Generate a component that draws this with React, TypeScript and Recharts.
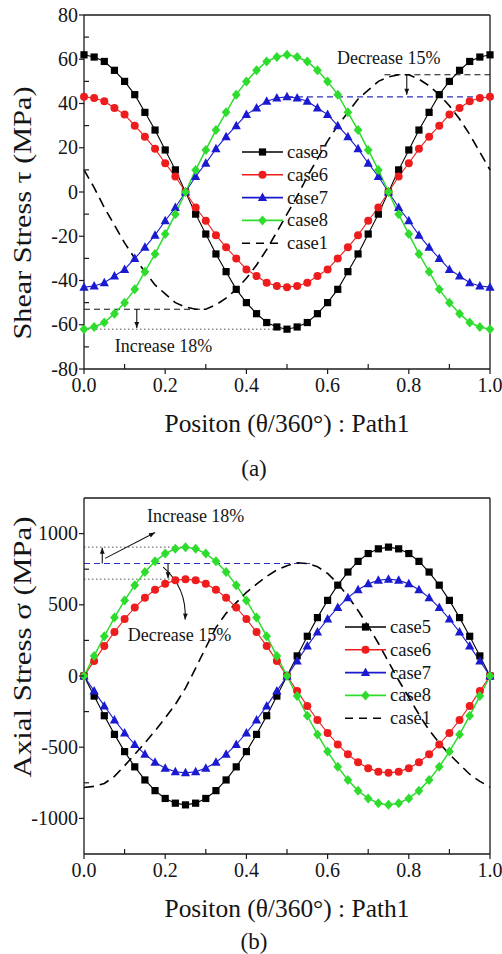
import React from 'react';
import { LineChart, Line, XAxis, YAxis, ReferenceLine, ReferenceDot, Legend, Label } from 'recharts';

const SERIF = "'Liberation Serif', 'Times New Roman', serif";

// positions (theta/360)
const positions = [
  0, 0.025, 0.05, 0.075, 0.1, 0.125, 0.15, 0.175, 0.2, 0.225, 0.25, 0.275, 0.3, 0.325,
  0.35, 0.375, 0.4, 0.425, 0.45, 0.475, 0.5, 0.525, 0.55, 0.575, 0.6, 0.625, 0.65,
  0.675, 0.7, 0.725, 0.75, 0.775, 0.8, 0.825, 0.85, 0.875, 0.9, 0.925, 0.95, 0.975, 1,
];

// (a) shear stress, MPa
const shearCase5 = [62, 61, 59, 55, 50, 44, 36, 28, 19, 10, 0, -10, -19, -28, -36, -44, -50, -55, -59, -61, -62, -61, -59, -55, -50, -44, -36, -28, -19, -10, 0, 10, 19, 28, 36, 44, 50, 55, 59, 61, 62];
const shearCase6 = [43, 42.5, 41, 38, 35, 30, 25, 19.5, 13, 7, 0, -7, -13, -19.5, -25, -30, -35, -38, -41, -42.5, -43, -42.5, -41, -38, -35, -30, -25, -19.5, -13, -7, 0, 7, 13, 19.5, 25, 30, 35, 38, 41, 42.5, 43];
const shearCase7 = [-43, -42.5, -41, -38, -35, -30, -25, -19.5, -13, -7, 0, 7, 13, 19.5, 25, 30, 35, 38, 41, 42.5, 43, 42.5, 41, 38, 35, 30, 25, 19.5, 13, 7, 0, -7, -13, -19.5, -25, -30, -35, -38, -41, -42.5, -43];
const shearCase8 = [-62, -61, -59, -55, -50, -44, -36, -28, -19, -10, 0, 10, 19, 28, 36, 44, 50, 55, 59, 61, 62, 61, 59, 55, 50, 44, 36, 28, 19, 10, 0, -10, -19, -28, -36, -44, -50, -55, -59, -61, -62];
const shearCase1 = [10, 2, -7, -15, -23, -30, -36, -42, -46, -50, -52, -53, -53, -51, -48, -44, -39, -33, -26, -18, -10, -2, 7, 15, 23, 30, 36, 42, 46, 50, 52, 53, 53, 51, 48, 44, 39, 33, 26, 18, 10];

// (b) axial stress, MPa
const axialCase5 = [0, -141, -279, -410, -531, -638, -730, -805, -860, -893, -905, -893, -860, -805, -730, -638, -531, -410, -279, -141, 0, 141, 279, 410, 531, 638, 730, 805, 860, 893, 905, 893, 860, 805, 730, 638, 531, 410, 279, 141, 0];
const axialCase6 = [0, 106, 210, 309, 400, 481, 550, 606, 647, 672, 680, 672, 647, 606, 550, 481, 400, 309, 210, 106, 0, -106, -210, -309, -400, -481, -550, -606, -647, -672, -680, -672, -647, -606, -550, -481, -400, -309, -210, -106, 0];
const axialCase7 = [0, -106, -210, -309, -400, -481, -550, -606, -647, -672, -680, -672, -647, -606, -550, -481, -400, -309, -210, -106, 0, 106, 210, 309, 400, 481, 550, 606, 647, 672, 680, 672, 647, 606, 550, 481, 400, 309, 210, 106, 0];
const axialCase8 = [0, 141, 279, 410, 531, 638, 730, 805, 860, 893, 905, 893, 860, 805, 730, 638, 531, 410, 279, 141, 0, -141, -279, -410, -531, -638, -730, -805, -860, -893, -905, -893, -860, -805, -730, -638, -531, -410, -279, -141, 0];
const axialCase1 = [-783, -775, -755, -705, -630, -550, -470, -385, -295, -200, -85, 55, 200, 340, 440, 515, 587, 645, 700, 745, 775, 795, 790, 768, 720, 650, 560, 460, 350, 230, 100, -30, -150, -270, -380, -470, -550, -620, -690, -740, -780];

// axis ticks
const xMajorTicks = [0, 0.2, 0.4, 0.6, 0.8, 1.0];
const xMinorTicks = [0.1, 0.3, 0.5, 0.7, 0.9];
const shearMajorTicks = [-80, -60, -40, -20, 0, 20, 40, 60, 80];
const shearMinorTicks = [-70, -50, -30, -10, 10, 30, 50, 70];
const axialMajorTicks = [-1000, -500, 0, 500, 1000];
const axialMinorTicks = [-750, -250, 250, 750];

const seriesNames = ['case5', 'case6', 'case7', 'case8', 'case1'];
const seriesKeys = ['c5', 'c6', 'c7', 'c8', 'c1'];
const seriesColors = ['#000000', '#ee1c1c', '#1a1ad0', '#2edc2e', '#000000'];
const seriesMarkers = ['square', 'circle', 'triangle', 'diamond', 'none'];

const shearRows = positions.map((p, i) => ({
  pos: p, c5: shearCase5[i], c6: shearCase6[i], c7: shearCase7[i], c8: shearCase8[i], c1: shearCase1[i],
}));
const axialRows = positions.map((p, i) => ({
  pos: p, c5: axialCase5[i], c6: axialCase6[i], c7: axialCase7[i], c8: axialCase8[i], c1: axialCase1[i],
}));

const AXIS_COLOR = '#1a1a1a';
const TEXT_COLOR = '#151515';

function markerEl(shape: string, cx: number, cy: number, color: string, key?: any) {
  switch (shape) {
    case 'square':
      return <rect key={key} x={cx - 3.6} y={cy - 3.6} width={7.2} height={7.2} fill={color} />;
    case 'circle':
      return <circle key={key} cx={cx} cy={cy} r={4} fill={color} />;
    case 'triangle':
      return <polygon key={key} points={`${cx},${cy - 5} ${cx - 4.6},${cy + 3.5} ${cx + 4.6},${cy + 3.5}`} fill={color} />;
    case 'diamond':
      return <polygon key={key} points={`${cx},${cy - 5} ${cx + 4.4},${cy} ${cx},${cy + 5} ${cx - 4.4},${cy}`} fill={color} />;
    default:
      return <g key={key} />;
  }
}

const makeDot = (shape: string, color: string) => (props: any) => {
  const { cx, cy, index } = props;
  if (cx == null || cy == null) return <g key={index} />;
  return markerEl(shape, cx, cy, color, index);
};

const has = (arr: number[], v: number) => arr.some((m) => Math.abs(m - v) < 1e-9);

const makeXTick = (majors: number[]) => (props: any) => {
  const { x, y, payload } = props;
  const v = payload.value;
  const major = has(majors, v);
  return (
    <g>
      {major ? (
        <line x1={x} x2={x} y1={y} y2={y + 5} stroke={AXIS_COLOR} strokeWidth={1.2} />
      ) : (
        <line x1={x} x2={x} y1={y} y2={y - 5} stroke={AXIS_COLOR} strokeWidth={1.2} />
      )}
      {major && (
        <text x={x} y={y + 22.5} textAnchor="middle" fontFamily={SERIF} fontSize={20} fill={TEXT_COLOR}>
          {v.toFixed(1)}
        </text>
      )}
    </g>
  );
};

const makeYTick = (majors: number[]) => (props: any) => {
  const { x, y, payload } = props;
  const v = payload.value;
  const major = has(majors, v);
  return (
    <g>
      {major ? (
        <line x1={x} x2={x - 5} y1={y} y2={y} stroke={AXIS_COLOR} strokeWidth={1.2} />
      ) : (
        <line x1={x} x2={x + 5} y1={y} y2={y} stroke={AXIS_COLOR} strokeWidth={1.2} />
      )}
      {major && (
        <text x={x - 6} y={y + 6.5} textAnchor="end" fontFamily={SERIF} fontSize={20} fill={TEXT_COLOR}>
          {String(v)}
        </text>
      )}
    </g>
  );
};

const arrowShape = (curve: number) => (props: any) => {
  const { x1, y1, x2, y2 } = props;
  if ([x1, y1, x2, y2].some((v) => v == null || Number.isNaN(v))) return <g />;
  const mx = (x1 + x2) / 2;
  const my = (y1 + y2) / 2;
  const dx = x2 - x1;
  const dy = y2 - y1;
  const len = Math.hypot(dx, dy) || 1;
  const cx = mx - (dy / len) * curve;
  const cy = my + (dx / len) * curve;
  const hx = x2 - cx;
  const hy = y2 - cy;
  const hl = Math.hypot(hx, hy) || 1;
  const ux = hx / hl;
  const uy = hy / hl;
  const s = 6;
  const w = 2.4;
  const p2 = `${x2 - ux * s - uy * w},${y2 - uy * s + ux * w}`;
  const p3 = `${x2 - ux * s + uy * w},${y2 - uy * s - ux * w}`;
  return (
    <g>
      <path d={`M${x1},${y1} Q${cx},${cy} ${x2},${y2}`} fill="none" stroke="#111" strokeWidth={1.1} />
      <polygon points={`${x2},${y2} ${p2} ${p3}`} fill="#111" />
    </g>
  );
};

const textShape = (txt: string) => (props: any) => {
  const { cx, cy } = props;
  return (
    <text x={cx} y={cy} fontFamily={SERIF} fontSize={18} fill={TEXT_COLOR}>
      {txt}
    </text>
  );
};

const LegendBox = () => (
  <svg width={110} height={120}>
    {seriesNames.map((name, i) => {
      const cy = 12 + i * 22.8;
      const color = seriesColors[i];
      const dashed = seriesMarkers[i] === 'none';
      return (
        <g key={name}>
          <line x1={2} x2={43} y1={cy} y2={cy} stroke={color} strokeWidth={1.6} strokeDasharray={dashed ? '8 6' : undefined} />
          {markerEl(seriesMarkers[i], 22.5, cy, color)}
          <text x={47} y={cy + 6} fontFamily={SERIF} fontSize={18.5} fill={TEXT_COLOR}>
            {name}
          </text>
        </g>
      );
    })}
  </svg>
);

const titleContent = (txt: string, x: number, y: number, len: number, size: number, rotate: boolean) => () => (
  <text
    x={x}
    y={y}
    textAnchor="middle"
    dominantBaseline="central"
    fontFamily={SERIF}
    fontSize={size}
    fill={TEXT_COLOR}
    textLength={len}
    lengthAdjust="spacingAndGlyphs"
    transform={rotate ? `rotate(-90 ${x} ${y})` : undefined}
  >
    {txt}
  </text>
);

function renderSeries() {
  return seriesKeys.map((k, i) => (
    <Line
      key={k}
      dataKey={k}
      type="linear"
      stroke={seriesColors[i]}
      strokeWidth={seriesMarkers[i] === 'none' ? 1.6 : i === 3 ? 1.5 : 1.1}
      strokeDasharray={seriesMarkers[i] === 'none' ? '10 6' : undefined}
      dot={seriesMarkers[i] === 'none' ? false : makeDot(seriesMarkers[i], seriesColors[i])}
      activeDot={false}
      isAnimationActive={false}
      legendType="none"
    />
  ));
}

function ShearChart() {
  return (
    <LineChart width={502} height={480} data={shearRows} margin={{ top: 15, right: 12, left: 0, bottom: 0 }}>
      <XAxis
        dataKey="pos"
        type="number"
        domain={[0, 1]}
        ticks={[...xMajorTicks, ...xMinorTicks].sort((a, b) => a - b)}
        interval={0}
        height={111}
        tickSize={0}
        tickMargin={0}
        tickLine={false}
        tick={makeXTick(xMajorTicks)}
        axisLine={{ stroke: AXIS_COLOR, strokeWidth: 1.3 }}
      >
        <Label content={titleContent('Positon (θ/360°) : Path1', 287, 423, 245, 25, false)} />
      </XAxis>
      <YAxis
        type="number"
        domain={[-80, 80]}
        ticks={[...shearMajorTicks, ...shearMinorTicks].sort((a, b) => a - b)}
        interval={0}
        width={84}
        tickSize={0}
        tickMargin={0}
        tickLine={false}
        tick={makeYTick(shearMajorTicks)}
        axisLine={{ stroke: AXIS_COLOR, strokeWidth: 1.3 }}
      >
        <Label content={titleContent('Shear Stress τ (MPa)', 22, 213, 253, 26, true)} />
      </YAxis>
      <ReferenceLine y={80} stroke={AXIS_COLOR} strokeWidth={1.3} />
      <ReferenceLine x={1} stroke={AXIS_COLOR} strokeWidth={1.3} />
      <ReferenceLine segment={[{ x: 0.74, y: 53 }, { x: 1, y: 53 }]} stroke="#111" strokeWidth={1.2} strokeDasharray="6 4" />
      <ReferenceLine segment={[{ x: 0.5, y: 43 }, { x: 1, y: 43 }]} stroke="#3030c0" strokeWidth={1.2} strokeDasharray="6 4" />
      <ReferenceLine segment={[{ x: 0, y: -53 }, { x: 0.29, y: -53 }]} stroke="#111" strokeWidth={1.2} strokeDasharray="6 4" />
      <ReferenceLine segment={[{ x: 0, y: -62 }, { x: 0.5, y: -62 }]} stroke="#555" strokeWidth={1} strokeDasharray="1.5 2.5" />
      <ReferenceLine segment={[{ x: 0.795, y: 53 }, { x: 0.795, y: 44 }]} shape={arrowShape(0)} />
      <ReferenceLine segment={[{ x: 0.13, y: -53 }, { x: 0.13, y: -61.5 }]} shape={arrowShape(0)} />
      {renderSeries()}
      <ReferenceDot x={0.623} y={57.8} r={0} shape={textShape('Decrease 15%')} />
      <ReferenceDot x={0.076} y={-72.4} r={0} shape={textShape('Increase 18%')} />
      <Legend
        layout="horizontal"
        verticalAlign="middle"
        align="center"
        content={() => <LegendBox />}
        wrapperStyle={{ position: 'absolute', left: 240, top: 140, width: 110, height: 120 }}
      />
    </LineChart>
  );
}

function AxialChart() {
  return (
    <LineChart width={502} height={474} data={axialRows} margin={{ top: 18, right: 12, left: 0, bottom: 0 }}>
      <XAxis
        dataKey="pos"
        type="number"
        domain={[0, 1]}
        ticks={[...xMajorTicks, ...xMinorTicks].sort((a, b) => a - b)}
        interval={0}
        height={100}
        tickSize={0}
        tickMargin={0}
        tickLine={false}
        tick={makeXTick(xMajorTicks)}
        axisLine={{ stroke: AXIS_COLOR, strokeWidth: 1.3 }}
      >
        <Label content={titleContent('Positon (θ/360°) : Path1', 287, 428, 245, 25, false)} />
      </XAxis>
      <YAxis
        type="number"
        domain={[-1250, 1250]}
        ticks={[...axialMajorTicks, ...axialMinorTicks].sort((a, b) => a - b)}
        interval={0}
        width={84}
        tickSize={0}
        tickMargin={0}
        tickLine={false}
        tick={makeYTick(axialMajorTicks)}
        axisLine={{ stroke: AXIS_COLOR, strokeWidth: 1.3 }}
      >
        <Label content={titleContent('Axial Stress σ (MPa)', 22, 167, 261, 26, true)} />
      </YAxis>
      <ReferenceLine y={1250} stroke={AXIS_COLOR} strokeWidth={1.3} />
      <ReferenceLine x={1} stroke={AXIS_COLOR} strokeWidth={1.3} />
      <ReferenceLine segment={[{ x: 0, y: 905 }, { x: 0.25, y: 905 }]} stroke="#555" strokeWidth={1} strokeDasharray="1.5 2.5" />
      <ReferenceLine segment={[{ x: 0, y: 790 }, { x: 0.56, y: 790 }]} stroke="#3030c0" strokeWidth={1.2} strokeDasharray="6 4" />
      <ReferenceLine segment={[{ x: 0, y: 680 }, { x: 0.22, y: 680 }]} stroke="#555" strokeWidth={1} strokeDasharray="1.5 2.5" />
      <ReferenceLine segment={[{ x: 0.045, y: 790 }, { x: 0.045, y: 900 }]} shape={arrowShape(0)} />
      <ReferenceLine segment={[{ x: 0.052, y: 826 }, { x: 0.175, y: 1007 }]} shape={arrowShape(0)} />
      <ReferenceLine segment={[{ x: 0.207, y: 790 }, { x: 0.207, y: 686 }]} shape={arrowShape(0)} />
      <ReferenceLine segment={[{ x: 0.195, y: 764 }, { x: 0.249, y: 396 }]} shape={arrowShape(-14)} />
      {renderSeries()}
      <ReferenceDot x={0.155} y={1078} r={0} shape={textShape('Increase 18%')} />
      <ReferenceDot x={0.108} y={245} r={0} shape={textShape('Decrease 15%')} />
      <Legend
        layout="horizontal"
        verticalAlign="middle"
        align="center"
        content={() => <LegendBox />}
        wrapperStyle={{ position: 'absolute', left: 343, top: 135, width: 110, height: 120 }}
      />
    </LineChart>
  );
}

export default function App() {
  return (
    <div style={{ position: 'absolute', left: 0, top: 0, width: 502, height: 954, background: '#fff', overflow: 'hidden' }}>
      <div style={{ position: 'absolute', left: 0, top: 0 }}>
        <ShearChart />
      </div>
      <div style={{ position: 'absolute', left: 0, top: 480 }}>
        <AxialChart />
      </div>
      <svg style={{ position: 'absolute', left: 0, top: 0, pointerEvents: 'none' }} width={502} height={954}>
        <text x={254} y={476} textAnchor="middle" fontFamily={SERIF} fontSize={23} fill={TEXT_COLOR}>(a)</text>
        <text x={254} y={949} textAnchor="middle" fontFamily={SERIF} fontSize={23} fill={TEXT_COLOR}>(b)</text>
      </svg>
    </div>
  );
}
